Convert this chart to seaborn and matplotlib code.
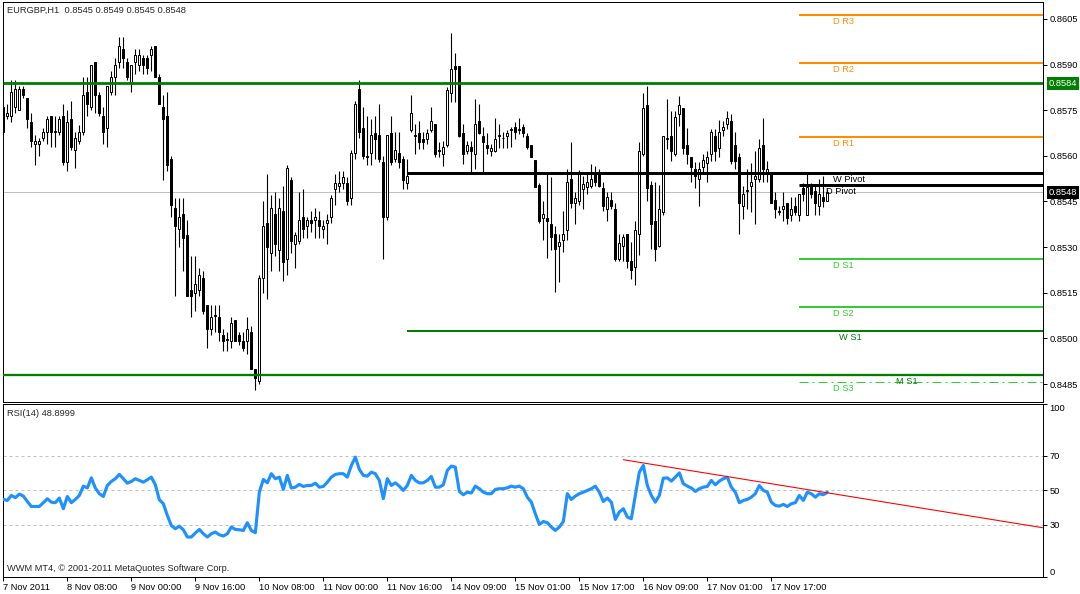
import numpy as np
import pandas as pd
import matplotlib
matplotlib.use("Agg")
import matplotlib.pyplot as plt
import seaborn as sns

# ------------------------------
# Data: EURGBP H1 candles, prices in points (1 point = 0.0001)
# ------------------------------
open_pts = [
    8576, 8573, 8573, 8576, 8575, 8582, 8579, 8571, 8564, 8564,
    8566, 8568, 8573, 8568, 8568, 8573, 8558, 8572, 8562, 8565,
    8568, 8581, 8576, 8591, 8580, 8573, 8569, 8581, 8586, 8591,
    8595, 8591, 8584, 8591, 8590, 8592, 8592, 8593, 8596, 8586,
    8576, 8573, 8559, 8543, 8536, 8541, 8534, 8516, 8515, 8516,
    8520, 8511, 8503, 8507.6, 8507, 8501, 8499.4, 8499, 8506, 8501,
    8499, 8499, 8502, 8490, 8486, 8520, 8538, 8528, 8541, 8529,
    8542, 8526, 8552, 8531, 8532, 8540, 8537, 8539, 8539, 8539,
    8536, 8538, 8540, 8549, 8550, 8551, 8551, 8546, 8561, 8582,
    8569, 8560, 8561, 8567.5, 8567, 8558, 8540, 8567.5, 8559, 8561,
    8559, 8551, 8568.5, 8566.8, 8567.5, 8565.5, 8565.5, 8568.5, 8570.5, 8561.8,
    8560.6, 8563.6, 8580.8, 8589.4, 8589.4, 8567.5, 8561.7, 8562.8, 8560.6, 8571.5,
    8566.6, 8563.7, 8561.7, 8561.7, 8566.4, 8565.8, 8566.6, 8568.5, 8569.4, 8568.5,
    8569.4, 8566.6, 8563.7, 8558.7, 8550.5, 8539.6, 8539.6, 8537.6, 8534.4, 8530.3,
    8532.4, 8535.7, 8552.4, 8544.5, 8545.3, 8549.2, 8549.7, 8550.2, 8554.6, 8554,
    8549.4, 8542.6, 8545.6, 8542.6, 8526.2, 8530.5, 8534.4, 8525.6, 8523.4, 8534.4,
    8560.6, 8576.8, 8550.5, 8538.7, 8530.3, 8541.5, 8565.5, 8566.6, 8560.6, 8573.7,
    8575.7, 8563.7, 8559.7, 8555.7, 8552.4, 8556.5, 8557.6, 8560.6, 8566.6, 8562.6,
    8568.5, 8570.4, 8571.5, 8563.7, 8559.7, 8543.6, 8548.4, 8550.2, 8552.4, 8552.4,
    8563.7, 8554.4, 8554.8, 8545.6, 8541.6, 8542.6, 8544.5, 8540.4, 8543.6, 8540.6,
    8549.4, 8540.6, 8549.7, 8548.6, 8543.4, 8546.6, 8545,
]
high_pts = [
    8577, 8577, 8585, 8585, 8583, 8583, 8579, 8574, 8567, 8566,
    8569, 8573, 8573, 8573, 8573, 8577, 8575, 8578, 8568, 8570,
    8586, 8586, 8590, 8591, 8581, 8576, 8583, 8588, 8592, 8599,
    8599, 8592, 8590, 8595, 8595, 8593, 8593, 8596, 8596, 8587,
    8580, 8581, 8560, 8546, 8546, 8546, 8539, 8527, 8527, 8523,
    8522, 8511, 8511, 8511, 8511, 8503, 8502, 8507, 8506, 8502,
    8502, 8507, 8504, 8490, 8521, 8545, 8554, 8547, 8548, 8546,
    8550, 8557, 8553, 8535, 8548, 8549, 8540, 8542, 8543, 8542,
    8539, 8541, 8547, 8554, 8555, 8555, 8553, 8562, 8578, 8585,
    8576, 8573, 8572, 8573, 8577, 8560, 8567, 8573, 8568, 8568,
    8560, 8559, 8580, 8570.5, 8571.6, 8567.7, 8568.8, 8575.9, 8570.5, 8564.4,
    8564.8, 8582.5, 8600.5, 8593.7, 8589.4, 8570.5, 8565, 8565, 8578.7, 8577,
    8569.4, 8567.5, 8563.9, 8572.6, 8570.5, 8567.7, 8568.5, 8569.6, 8571, 8572.6,
    8570.5, 8567.4, 8563.7, 8558.7, 8551, 8545, 8554.6, 8553, 8536.8, 8534.4,
    8541.8, 8555.7, 8564.4, 8548, 8555.5, 8553.5, 8554, 8557.3, 8556.8, 8555.7,
    8551.3, 8548, 8548, 8544.5, 8534.4, 8534.4, 8534.4, 8531.6, 8538.7, 8564.6,
    8580.6, 8583, 8551.8, 8551.3, 8550.5, 8566.6, 8578.6, 8574.8, 8574.8, 8579.7,
    8575.7, 8569.3, 8559.7, 8557.9, 8557.9, 8560.6, 8561.7, 8568.8, 8568.8, 8571.7,
    8571.5, 8574.8, 8573.7, 8567.7, 8561.1, 8550.2, 8555.7, 8557.6, 8561.7, 8565.5,
    8572.6, 8558.4, 8554.8, 8548.2, 8543.4, 8548.2, 8544.5, 8546.4, 8546.4, 8547.5,
    8551, 8554.8, 8551, 8550.2, 8552.4, 8553.5, 8549,
]
low_pts = [
    8567, 8572, 8571, 8574, 8575, 8579, 8569, 8563, 8557, 8560,
    8565, 8564, 8563, 8563, 8567, 8557, 8555, 8562, 8556, 8564,
    8567, 8573, 8575, 8574, 8573, 8564, 8563, 8580, 8580, 8589,
    8589, 8585, 8581, 8587, 8588, 8587, 8587, 8588, 8586, 8577,
    8552, 8555, 8540, 8514, 8530, 8522, 8514, 8507, 8509, 8514,
    8508, 8497, 8501, 8502, 8499, 8496, 8496, 8497, 8499, 8498,
    8496, 8495, 8490, 8483, 8485, 8515, 8513, 8522, 8527, 8522,
    8519, 8521, 8528, 8523, 8531, 8533, 8533, 8535, 8533, 8533,
    8533, 8531, 8538, 8544, 8548, 8549, 8544, 8544, 8559, 8566,
    8559, 8557, 8557, 8559, 8558, 8526, 8539, 8557, 8558, 8556,
    8549, 8549, 8568, 8560.6, 8562.3, 8562.3, 8563.9, 8567.7, 8559.5, 8559.5,
    8556.8, 8562.8, 8577.6, 8577.6, 8566.1, 8557.3, 8560.6, 8554.4, 8555.7, 8567.2,
    8554.6, 8560.6, 8560.1, 8561.2, 8562.6, 8562.6, 8562.6, 8562.8, 8565.5, 8567.2,
    8566.1, 8562.3, 8559.5, 8549.7, 8538, 8532.2, 8526.5, 8529, 8515.2, 8518.5,
    8528.4, 8532.4, 8543, 8537.7, 8544, 8542.6, 8547.5, 8549.6, 8550.2, 8549.7,
    8542, 8538.5, 8542.6, 8525.6, 8525.6, 8525.6, 8523, 8519.6, 8517.4, 8527.3,
    8560, 8545.3, 8529.4, 8525.6, 8530, 8540.4, 8562.2, 8558.4, 8560, 8569.9,
    8560.6, 8557.3, 8551.3, 8549.4, 8543.4, 8554.4, 8551.3, 8558.4, 8558.4, 8559.5,
    8566.6, 8568.8, 8557.3, 8555.7, 8534.4, 8539.3, 8542.6, 8541.5, 8537.6, 8551.3,
    8551.3, 8551.3, 8544.5, 8539.6, 8540.4, 8538.7, 8537.6, 8538.7, 8540.4, 8538.5,
    8545, 8540.4, 8546, 8540.6, 8540.4, 8543.1, 8545,
]
close_pts = [
    8568, 8574, 8581, 8582, 8582, 8580, 8572, 8565, 8565, 8565,
    8568, 8572, 8568, 8568.3, 8572, 8558, 8571, 8563, 8566, 8568,
    8580, 8577, 8590, 8580, 8574, 8568, 8583, 8586, 8590, 8596,
    8592, 8586, 8590, 8593, 8593, 8590, 8589, 8595, 8586, 8577,
    8572, 8557, 8544, 8537, 8540, 8533, 8514, 8514, 8518, 8521,
    8509, 8503, 8507, 8507.3, 8502, 8499, 8499.8, 8505, 8499, 8499,
    8497, 8503, 8490, 8487, 8520, 8537, 8530, 8543, 8531, 8543,
    8525, 8556, 8532, 8534, 8539, 8536, 8539, 8538, 8540, 8537,
    8537, 8539, 8546, 8551, 8551, 8553, 8545, 8561, 8577, 8568,
    8560, 8559.5, 8567, 8565.5, 8559, 8540, 8567, 8558, 8562, 8558,
    8552, 8553.5, 8574, 8566.5, 8564.4, 8564.4, 8567.5, 8571.6, 8560.6, 8561.6,
    8562.8, 8581.6, 8588.5, 8588.5, 8566.6, 8560.6, 8563.7, 8561.7, 8570.5, 8567.5,
    8564.4, 8562.6, 8562.6, 8565.5, 8566.7, 8566.0, 8567.5, 8568.7, 8567.7, 8568.7,
    8567.5, 8562.8, 8559.5, 8549.7, 8538.5, 8540.9, 8538.5, 8533.3, 8529.5, 8531.6,
    8534.4, 8551.3, 8544.4, 8546, 8554.6, 8550.9, 8551.5, 8552.4, 8551.3, 8550.2,
    8543.4, 8546.4, 8543.4, 8526.2, 8531.4, 8533.3, 8525.6, 8522.6, 8535.7, 8561.7,
    8575.7, 8549.4, 8537.6, 8529.4, 8542.6, 8566.6, 8565.8, 8561.5, 8572.8, 8576.8,
    8562.6, 8560.6, 8556.5, 8553.3, 8555.7, 8558.7, 8559.7, 8567.7, 8561.5, 8567.7,
    8569.6, 8572.6, 8558.4, 8558.4, 8544.5, 8547.5, 8548.8, 8551.3, 8553.5, 8562.6,
    8555.7, 8555.7, 8544.5, 8542.6, 8541.8, 8543.6, 8539.6, 8542.6, 8541.5, 8547.5,
    8547.5, 8549.7, 8547.5, 8544.5, 8547.5, 8545.3, 8548,
]

# RSI(14), one value per bar
rsi_values = [
    44.8, 44.2, 47.1, 45.8, 47.9, 46.7, 43.6, 40.7, 40.7, 40.7,
    42.9, 45.2, 43.2, 42.9, 45.6, 39.4, 46.5, 42.9, 44.8, 47.1,
    52.5, 51.5, 57.3, 51.4, 48.1, 46.5, 52.9, 55.2, 56.8, 59.3,
    56.8, 54.2, 55.2, 56.8, 55.8, 54.8, 56.2, 57.7, 53.3, 44.6,
    42.3, 35.5, 29.7, 27.8, 29.3, 27.2, 23.0, 23.0, 25.3, 27.4,
    24.9, 23.0, 24.9, 25.9, 24.3, 23.6, 24.9, 28.8, 27.4, 27.2,
    26.8, 31.3, 26.8, 25.5, 49.0, 56.4, 54.4, 59.7, 56.8, 57.7,
    50.6, 58.7, 51.4, 51.9, 53.5, 52.3, 52.9, 52.9, 54.2, 51.9,
    52.3, 54.8, 57.7, 59.3, 59.7, 59.7, 57.7, 64.5, 69.3, 62.2,
    58.7, 58.3, 60.6, 59.7, 55.8, 45.2, 56.8, 52.9, 54.4, 52.5,
    50.0, 52.9, 58.7, 55.8, 54.4, 54.4, 55.8, 58.1, 51.9, 51.9,
    53.3, 61.6, 64.1, 63.5, 49.4, 47.5, 49.0, 48.5, 52.5, 51.0,
    49.0, 48.1, 48.1, 50.6, 51.0, 51.0, 51.5, 52.5, 51.9, 52.5,
    51.0, 46.1, 43.2, 36.5, 30.3, 32.0, 31.3, 28.8, 26.8, 28.8,
    32.0, 48.1, 44.8, 46.7, 48.1, 49.0, 50.0, 51.0, 52.5, 49.0,
    43.6, 45.6, 43.2, 33.2, 37.5, 39.4, 34.6, 33.6, 47.1, 60.6,
    64.5, 52.9, 47.1, 43.2, 47.1, 57.1, 57.3, 55.4, 57.7, 60.2,
    53.9, 52.5, 51.4, 49.4, 51.0, 51.9, 52.3, 55.8, 53.3, 55.4,
    56.8, 57.7, 51.9, 49.0, 42.9, 44.2, 44.8, 46.1, 48.1, 52.9,
    50.0, 49.0, 43.2, 41.3, 40.9, 41.9, 40.7, 42.3, 42.9, 47.1,
    44.2, 49.0, 48.1, 46.1, 48.1, 47.5, 48.9,
]

# RSI trend line (bar index, RSI value)
trend_bars = [155, 259.8]
trend_rsi = [67.8, 28.4]

# time axis labels (every 16 bars)
date_bars = [0, 16, 32, 48, 64, 80, 96, 112, 128, 144, 160, 176, 192]
date_labels = ["7 Nov 2011", "8 Nov 08:00", "9 Nov 00:00", "9 Nov 16:00",
               "10 Nov 08:00", "11 Nov 00:00", "11 Nov 16:00", "14 Nov 09:00",
               "15 Nov 01:00", "15 Nov 17:00", "16 Nov 09:00", "17 Nov 01:00",
               "17 Nov 17:00"]

price_ticks = [0.8485, 0.8500, 0.8515, 0.8530, 0.8545, 0.8560, 0.8575, 0.8590, 0.8605]
rsi_ticks = [0, 30, 50, 70, 100]
rsi_levels = [30, 50, 70]

# pivot levels: name, price, bar where the level starts
level_names = ["", "D R3", "D R2", "D R1", "W Pivot", "D Pivot",
               "D S1", "D S2", "W S1", "M S1", "D S3"]
level_values = [0.85838, 0.86063, 0.85906, 0.85663, 0.85543, 0.85504,
                0.85261, 0.85103, 0.85025, 0.84881, 0.84858]
level_start = [0, 199, 199, 199, 101, 199, 199, 199, 101, 0, 199]

last_price = 0.8548
title_text = "EURGBP,H1  0.8545 0.8549 0.8545 0.8548"
rsi_text = "RSI(14) 48.8999"
copyright_text = "WWM MT4, \u00a9 2001-2011 MetaQuotes Software Corp."

# ------------------------------
# Build frame
# ------------------------------
df = pd.DataFrame({
    "open": np.array(open_pts) / 1e4,
    "high": np.array(high_pts) / 1e4,
    "low": np.array(low_pts) / 1e4,
    "close": np.array(close_pts) / 1e4,
    "rsi": rsi_values,
})
df["bar"] = np.arange(len(df))

# ------------------------------
# Style
# ------------------------------
sns.set_theme(style="white")
plt.rcParams["font.family"] = ["Liberation Sans", "DejaVu Sans"]
FS = 6.7
PX = 0.72  # one pixel in points at 100 dpi

fig = plt.figure(figsize=(10.8, 5.94), dpi=100)
ax = fig.add_axes([0.0025, 0.3237, 0.9628, 0.6721])
ax2 = fig.add_axes([0.0025, 0.0291, 0.9628, 0.2908])

XMIN, XMAX = -0.16, 259.8
for a in (ax, ax2):
    a.set_facecolor("white")
    a.set_xlim(XMIN, XMAX)
    for s in a.spines.values():
        s.set_color("black")
        s.set_linewidth(1.0 * PX)
    a.yaxis.tick_right()
    a.tick_params(axis="y", direction="out", length=4 * PX, width=PX,
                  pad=2, labelsize=FS, colors="black", right=True, left=False)
    a.grid(False)

# ------------------------------
# Main price panel
# ------------------------------
ax.set_ylim(0.84792, 0.86104)
ax.axhline(last_price, color="#C0C0C0", lw=PX, zorder=1)

up = df[df.close >= df.open]
dn = df[df.close < df.open]
ax.vlines(df.bar, df.low, df.high, color="black", lw=1.1 * PX, zorder=2)
ax.bar(up.bar, (up.close - up.open).clip(lower=0.000005), bottom=up.open,
       width=0.5, color="white", edgecolor="black", linewidth=1.0 * PX, zorder=2.5)
ax.bar(dn.bar, dn.open - dn.close, bottom=dn.close,
       width=0.5, color="black", edgecolor="black", linewidth=1.0 * PX, zorder=2.5)

# level styles (colour, width px, linestyle, label x position)
GREEN = "#007F00"
ORANGE = "#FF8C00"
LIME = "#32CD32"
level_style = {
    "": (GREEN, 2.8, "-", None),
    "D R3": (ORANGE, 2, "-", 207.4),
    "D R2": (ORANGE, 2, "-", 207.4),
    "D R1": (ORANGE, 2, "-", 207.4),
    "W Pivot": ("black", 3, "-", 207.4),
    "D Pivot": ("black", 3, "-", 205.7),
    "D S1": (LIME, 2, "-", 207.4),
    "D S2": (LIME, 2, "-", 207.4),
    "W S1": (GREEN, 2, "-", 208.9),
    "M S1": (GREEN, 2.3, "-", 223.1),
    "D S3": (LIME, 1, (0, (9, 4, 2, 4)), 207.4),
}
for name, val, start in zip(level_names, level_values, level_start):
    col, w, ls, lx = level_style[name]
    x0 = XMIN if start == 0 else start
    ax.hlines(val, x0, XMAX, colors=col, linewidth=w * PX, linestyles=ls, zorder=3)
    if lx is not None:
        ax.annotate(name, xy=(lx, val), xytext=(0, -6.7), textcoords="offset pixels",
                    ha="left", va="center", fontsize=FS, color=col, zorder=4)

ax.set_xticks([])
ax.set_yticks(price_ticks)
ax.set_yticklabels([f"{p:.4f}" for p in price_ticks])

# price boxes on the right scale
for val, fc in [(level_values[0], GREEN), (last_price, "black")]:
    ax.annotate(f"{val:.4f}", xy=(1, val), xycoords=("axes fraction", "data"),
                xytext=(6, 0), textcoords="offset pixels", ha="left", va="center",
                fontsize=FS, color="white", annotation_clip=False, zorder=10,
                bbox=dict(boxstyle="square,pad=0.18", fc=fc, ec="none"))

ax.annotate(title_text, xy=(0, 1), xycoords="axes fraction", xytext=(4, -7.5),
            textcoords="offset pixels", ha="left", va="center", fontsize=FS)

# ------------------------------
# RSI panel
# ------------------------------
ax2.set_ylim(0, 100.1)
for lv in rsi_levels:
    ax2.axhline(lv, color="#C0C0C0", lw=PX, ls=(0, (3, 3)), zorder=1)

sns.lineplot(data=df, x="bar", y="rsi", ax=ax2, color="#1E90FF",
             linewidth=2.4 * PX * 1.3, zorder=3)
ax2.plot(trend_bars, trend_rsi, color="red", lw=1.1 * PX, zorder=4)

ax2.set_xlabel("")
ax2.set_ylabel("")
ax2.set_yticks(rsi_ticks)
ax2.set_yticklabels([str(t) for t in rsi_ticks])
for lbl, t in zip(ax2.get_yticklabels(), rsi_ticks):
    if t == 100:
        lbl.set_va("top")
    elif t == 0:
        lbl.set_va("bottom")

ax2.set_xticks(date_bars)
ax2.set_xticklabels(date_labels)
ax2.tick_params(axis="x", direction="out", length=4 * PX, width=PX, pad=1.5,
                labelsize=FS, colors="black", bottom=True)
for lbl in ax2.get_xticklabels():
    lbl.set_ha("left")

ax2.annotate(rsi_text, xy=(0, 1), xycoords="axes fraction", xytext=(4, -9.5),
             textcoords="offset pixels", ha="left", va="center", fontsize=FS)
ax2.annotate(copyright_text, xy=(0, 0), xycoords="axes fraction", xytext=(4, 8),
             textcoords="offset pixels", ha="left", va="center", fontsize=FS)

fig.savefig("out.png", dpi=100, facecolor="white")
